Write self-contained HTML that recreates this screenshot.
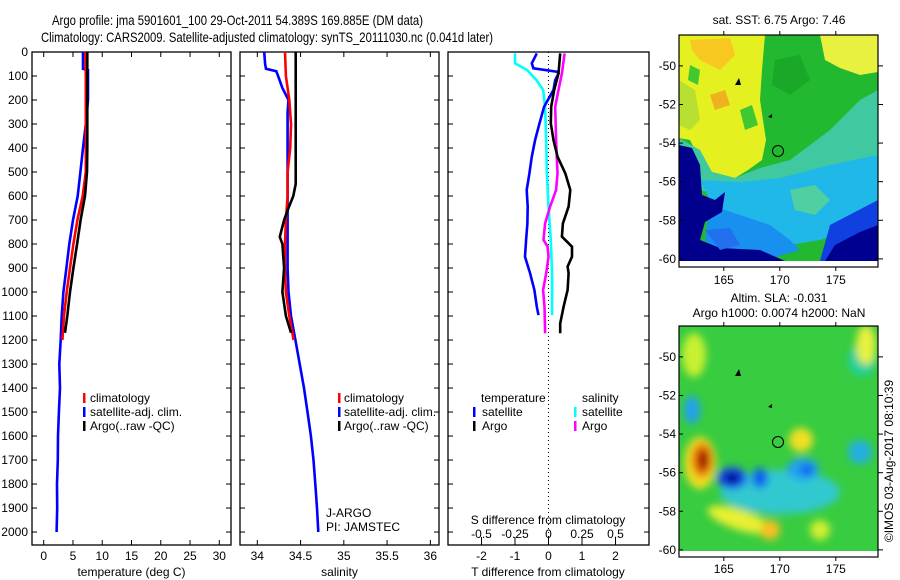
<!DOCTYPE html>
<html><head><meta charset="utf-8"><style>
html,body{margin:0;padding:0;background:#fff;}
svg{display:block;font-family:"Liberation Sans",sans-serif;}
</style></head><body>
<svg id="fig" width="900" height="580" viewBox="0 0 900 580" xmlns="http://www.w3.org/2000/svg">
<defs>
<filter id="blur4" x="-50%" y="-50%" width="200%" height="200%"><feGaussianBlur stdDeviation="4"/></filter>
<clipPath id="clipM1"><rect x="679" y="35" width="199" height="226"/></clipPath>
<clipPath id="clipM2"><rect x="679" y="326" width="199" height="225"/></clipPath>
</defs>
<text x="52" y="25" font-size="14" textLength="371" lengthAdjust="spacingAndGlyphs">Argo profile: jma 5901601_100 29-Oct-2011 54.389S 169.885E (DM data)</text>
<text x="41" y="42" font-size="14" textLength="452" lengthAdjust="spacingAndGlyphs">Climatology: CARS2009. Satellite-adjusted climatology: synTS_20111030.nc (0.041d later)</text>
<g id="profiles"></g>
<g id="maps">
 <g clip-path="url(#clipM1)">
  <rect x="679" y="35" width="199" height="226" fill="#22b830"/>
  <polygon fill="#e4f020" points="679,35 765,35 762,70 760,100 766,140 762,160 748,170 735,178 712,172 700,160 690,140 679,138"/>
  <polygon fill="#b8e030" points="679,80 695,90 700,120 690,130 679,125"/>
  <polygon fill="#40c830" points="740,110 752,105 758,125 745,130"/>
  <polygon fill="#40c830" points="690,65 700,70 698,85 688,80"/>
  <polygon fill="#f8c820" points="690,40 730,38 735,55 720,70 700,60 692,50"/>
  <polygon fill="#f0b020" points="710,95 725,90 730,105 715,110"/>
  <polygon fill="#e8f040" points="820,35 878,35 878,72 860,75 840,68 825,60"/>
  <polygon fill="#1aa828" points="775,60 800,55 810,80 790,95 772,85"/>
  <polygon fill="#40c8a0" points="679,138 700,150 712,172 735,178 760,168 790,160 830,130 860,100 878,90 878,160 840,175 800,185 760,190 720,195 700,190 679,150"/>
  <polygon fill="#20b8e8" points="700,180 740,182 780,178 830,165 878,155 878,215 850,230 820,240 790,245 760,235 730,215 710,200"/>
  <polygon fill="#1890f0" points="710,205 740,215 770,225 790,240 800,250 760,261 720,261 705,240"/>
  <polygon fill="#50d0a0" points="790,190 815,185 830,200 815,215 795,210"/>
  <polygon fill="#1040e0" points="830,225 878,200 878,261 820,261"/>
  <polygon fill="#00008c" points="679,145 692,148 700,165 702,195 715,200 725,192 722,212 705,222 700,240 720,248 760,250 785,261 679,261"/>
  <polygon fill="#000090" points="835,245 860,232 878,225 878,261 825,261"/>
  <polygon fill="#2070f0" points="705,230 730,228 740,245 720,250"/>
 </g>
 <rect x="679" y="261" width="199" height="6" fill="#fff"/>
 <rect x="679" y="35" width="199" height="232" fill="none" stroke="#000" stroke-width="1.2"/>
 <g clip-path="url(#clipM2)">
  <rect x="679" y="326" width="199" height="225" fill="#38cc40"/>
  <g filter="url(#blur4)">
   <ellipse cx="862" cy="360" rx="14" ry="16" fill="#20d0a0"/>
   <ellipse cx="694" cy="355" rx="12" ry="22" fill="#c8f030"/>
   <ellipse cx="866" cy="345" rx="10" ry="20" fill="#e8f040"/>
   <ellipse cx="692" cy="410" rx="8" ry="14" fill="#20a0f0"/>
   <ellipse cx="780" cy="492" rx="60" ry="22" fill="#30c8d0"/>
   <ellipse cx="700" cy="463" rx="16" ry="26" fill="#f0e020"/>
   <ellipse cx="702" cy="460" rx="11" ry="18" fill="#f08010"/>
   <ellipse cx="703" cy="460" rx="6" ry="11" fill="#a01000"/>
   <ellipse cx="732" cy="478" rx="15" ry="11" fill="#1850f0"/>
   <ellipse cx="732" cy="478" rx="8" ry="6" fill="#000090"/>
   <ellipse cx="760" cy="478" rx="8" ry="10" fill="#1060f0"/>
   <ellipse cx="803" cy="469" rx="16" ry="11" fill="#20a0f0"/>
   <ellipse cx="807" cy="470" rx="6" ry="6" fill="#1060f0"/>
   <ellipse cx="801" cy="440" rx="12" ry="12" fill="#f0e020"/>
   <ellipse cx="740" cy="520" rx="34" ry="10" fill="#e8f030" transform="rotate(18 740 520)"/>
   <ellipse cx="770" cy="530" rx="10" ry="10" fill="#f8c020"/>
   <ellipse cx="820" cy="530" rx="10" ry="10" fill="#d0f030"/>
   <ellipse cx="860" cy="452" rx="12" ry="12" fill="#20b0e0"/>
  </g>
 </g>
 <rect x="679" y="551" width="199" height="6" fill="#fff"/>
 <rect x="679" y="326" width="199" height="231" fill="none" stroke="#000" stroke-width="1.2"/>
 <path d="M735,85 l4,-7 l2,7 z M735,376 l4,-7 l2,7 z" fill="#000"/>
 <path d="M768,117 l4,-3 l0,4 z M768,407 l4,-3 l0,4 z" fill="#000"/>
 <circle cx="778" cy="151" r="5.5" fill="none" stroke="#000" stroke-width="1"/>
 <circle cx="778" cy="442" r="5.5" fill="none" stroke="#000" stroke-width="1"/>
 <text x="779" y="24" font-size="12" text-anchor="middle">sat. SST: 6.75 Argo: 7.46</text>
 <text x="779" y="302" font-size="12" text-anchor="middle">Altim. SLA: -0.031</text>
 <text x="779" y="317" font-size="12" text-anchor="middle">Argo h1000: 0.0074 h2000: NaN</text>
 <text x="0" y="0" font-size="12" text-anchor="middle" transform="translate(893,461) rotate(-90)">©IMOS 03-Aug-2017 08:10:39</text>
 <g id="mapaxes"></g>
</g>
</svg>
<script>
const tempDepth = [0,100,200,300,400,500,600,700,800,900,1000,1100,1170];
const tempArgo  = [7.45,7.45,7.45,7.45,7.45,7.4,7.06,6.3,5.7,5.07,4.5,4.03,3.64];
const tempClimDepth = [0,100,200,300,400,500,600,700,800,900,1000,1100,1200];
const tempClim  = [7.1,7.2,7.2,7.2,7.2,7.2,6.66,5.75,5.07,4.5,3.93,3.47,3.19];
const tempSatDepth = [0,70,75,200,300,400,500,600,700,800,900,1000,1100,1200,1300,1400,1500,1600,1700,1800,1900,2000];
const tempSat   = [6.72,6.72,7.57,7.57,7.2,6.72,6.27,5.8,5.0,4.38,3.87,3.36,3.07,2.9,2.67,2.78,2.6,2.44,2.4,2.27,2.3,2.2];

const salArgoDepth = [0,550,600,650,700,770,800,900,1000,1100,1170];
const salArgo   = [34.444,34.444,34.416,34.36,34.31,34.26,34.29,34.31,34.29,34.33,34.39];
const salClimDepth = [0,100,200,300,400,500,600,700,800,900,1000,1100,1200];
const salClim   = [34.32,34.33,34.37,34.39,34.38,34.35,34.35,34.33,34.32,34.32,34.33,34.37,34.42];
const salSatDepth = [0,50,70,80,100,150,200,250,300,900,1000,1100,1200,1300,1400,1500,1600,1700,1800,1900,2000];
const salSat    = [34.08,34.09,34.10,34.22,34.24,34.29,34.36,34.35,34.35,34.35,34.36,34.39,34.44,34.49,34.54,34.58,34.62,34.65,34.67,34.69,34.705];

const dTSatDepth = [6,47,68,82,89,117,158,228,297,367,436,506,575,644,714,783,853,922,992,1061,1096];
const dTSat     = [-0.35,-0.5,-0.45,0.25,0.3,0.2,0.15,-0.13,-0.27,-0.4,-0.5,-0.57,-0.65,-0.62,-0.63,-0.67,-0.7,-0.55,-0.42,-0.35,-0.3];
const dTArgoDepth = [6,89,158,228,297,367,436,506,575,644,714,769,811,853,894,922,992,1061,1131,1172];
const dTArgo    = [0.35,0.3,0.17,0.08,0.07,0.15,0.27,0.5,0.65,0.6,0.43,0.4,0.7,0.7,0.57,0.6,0.57,0.45,0.35,0.35];
const dSSatDepth = [6,47,75,117,158,228,367,506,644,783,922,1096];
const dSSat     = [-0.25,-0.25,-0.16,-0.09,-0.04,-0.025,-0.017,-0.012,0,0.017,0.027,0.027];
const dSArgoDepth = [6,89,158,228,367,506,575,644,714,783,811,853,922,992,1061,1172];
const dSArgo    = [0.12,0.1,0.075,0.05,0.057,0.067,0.057,0.012,-0.025,-0.037,-0.007,0,-0.017,-0.04,-0.03,-0.025];

const depthTicks = [0,100,200,300,400,500,600,700,800,900,1000,1100,1200,1300,1400,1500,1600,1700,1800,1900,2000];
const tempTicks = [0,5,10,15,20,25,30];
const salTicks = [34,34.5,35,35.5,36];
const salTickLabels = ["34","34.5","35","35.5","36"];
const dTTicks = [-2,-1,0,1,2];
const dSTicks = [-0.5,-0.25,0,0.25,0.5];
const dSTickLabels = ["-0.5","-0.25","0","0.25","0.5"];
const latTicks = [50,52,54,56,58,60];
const lonTicks = [165,170,175];

const NS = "http://www.w3.org/2000/svg";
const Y0 = 52, Y1 = 545, DMAX = 2054;
function yD(d){ return Y0 + d/DMAX*(Y1-Y0); }
function mk(tag, attrs, parent){ const e=document.createElementNS(NS,tag); for(const k in attrs) e.setAttribute(k,attrs[k]); parent.appendChild(e); return e; }
const G = document.getElementById('profiles');
const panels = [
 {x0:32,x1:231,lo:-2,hi:32},
 {x0:240,x1:439,lo:33.8,hi:36.1},
 {x0:448,x1:649,lo:-3,hi:3}
];
function xf(p,v){ return p.x0 + (v-p.lo)/(p.hi-p.lo)*(p.x1-p.x0); }
function line(p, vals, depths, color, name, scale){
  const pts = vals.map((v,i)=> xf(p, v*(scale||1)).toFixed(1)+','+yD(depths[i]).toFixed(1)).join(' ');
  const e = mk('polyline',{points:pts,fill:'none',stroke:color,'stroke-width':2.6},G);
  
  
}
function txt(x,y,s,size,anchor,name){
  const e = mk('text',{x:x,y:y,'font-size':size,'text-anchor':anchor||'start'},G);
  e.textContent = s;
  
  
  return e;
}
function tick(x1,y1,x2,y2,parent){ mk('line',{x1:x1,y1:y1,x2:x2,y2:y2,stroke:'#000','stroke-width':1},parent||G); }

panels.forEach((p,i)=>{
  const r = mk('rect',{x:p.x0,y:Y0,width:p.x1-p.x0,height:Y1-Y0,fill:'none',stroke:'#000','stroke-width':1.3},G);
  
  
  depthTicks.forEach(d=>{ tick(p.x0,yD(d),p.x0+5,yD(d)); tick(p.x1-5,yD(d),p.x1,yD(d)); });
});
depthTicks.forEach(d=>{ txt(28, yD(d)+4, String(d), 12, 'end', 'depth-tick-label'); });

const p1=panels[0];
tempTicks.forEach(t=>{ const x=xf(p1,t); tick(x,Y0,x,Y0+5); tick(x,Y1-5,x,Y1); txt(x,Y1+15,String(t),12,'middle','temp-tick-label'); });
txt((p1.x0+p1.x1)/2, 576, 'temperature (deg C)', 12, 'middle', 'temp-axis-title');
line(p1, tempSat, tempSatDepth, '#0000ff', 'temp-satellite-line');
line(p1, tempClim, tempClimDepth, '#ff0000', 'temp-climatology-line');
line(p1, tempArgo, tempDepth, '#000000', 'temp-argo-line');
const p2=panels[1];
salTicks.forEach((t,i)=>{ const x=xf(p2,t); tick(x,Y0,x,Y0+5); tick(x,Y1-5,x,Y1); txt(x,Y1+15,salTickLabels[i],12,'middle','sal-tick-label'); });
txt((p2.x0+p2.x1)/2, 576, 'salinity', 12, 'middle', 'sal-axis-title');
line(p2, salSat, salSatDepth, '#0000ff', 'sal-satellite-line');
line(p2, salClim, salClimDepth, '#ff0000', 'sal-climatology-line');
line(p2, salArgo, salArgoDepth, '#000000', 'sal-argo-line');
[[83,90],[338,344]].forEach((L,k)=>{
  const names=['climatology','satellite-adj. clim.','Argo(..raw -QC)'];
  const cols=['#ff0000','#0000ff','#000000'];
  names.forEach((n,i)=>{
    const m = mk('rect',{x:L[0],y:393+i*14,width:2.5,height:10,fill:cols[i]},G);
    
    
    txt(L[1],402+i*14,n,12,'start','legend-entry');
  });
});
txt(326,517,'J-ARGO',12,'start','float-program-label');
txt(326,531,'PI: JAMSTEC',12,'start','pi-label');
const p3=panels[2];
const zx = xf(p3,0);
const dl = mk('line',{x1:zx,y1:Y0,x2:zx,y2:Y1,stroke:'#000','stroke-width':1,'stroke-dasharray':'1,3'},G);


dTTicks.forEach(t=>{ const x=xf(p3,t); tick(x,Y1-5,x,Y1); txt(x,Y1+15,String(t),12,'middle','dT-tick-label'); });
dSTicks.forEach((t,i)=>{ const x=xf(p3,t*4); tick(x,Y1-8,x,Y1-3); txt(x,Y1-7,dSTickLabels[i],12,'middle','dS-tick-label'); });
txt(548,524,'S difference from climatology',12,'middle','dS-axis-title');
txt(548,576,'T difference from climatology',12,'middle','dT-axis-title');
line(p3, dSSat, dSSatDepth, '#00ffff', 'dS-satellite-line', 4);
line(p3, dSArgo, dSArgoDepth, '#ff00ff', 'dS-argo-line', 4);
line(p3, dTSat, dTSatDepth, '#0000ff', 'dT-satellite-line');
line(p3, dTArgo, dTArgoDepth, '#000000', 'dT-argo-line');
txt(481,402,'temperature',12,'start','legend-title-temperature');
txt(582,402,'salinity',12,'start','legend-title-salinity');
[[473,482,'#0000ff','satellite'],[473,482,'#000000','Argo'],[574,582,'#00ffff','satellite'],[574,582,'#ff00ff','Argo']].forEach((L,i)=>{
  const row=i%2;
  const m = mk('rect',{x:L[0],y:407+row*14,width:2.5,height:10,fill:L[2]},G);
  
  
  txt(L[1],416+row*14,L[3],12,'start','legend-entry');
});

const MA = document.getElementById('mapaxes');
function lonX(l){ return 679 + (l-161)*11.2; }
[[35,267,280],[326,557,569]].forEach((m,k)=>{
  const top=m[0], bot=m[1];
  const latY = lat => (k===0?35:326) + (lat-48.4)*19.3;
  latTicks.forEach(l=>{
    const y=latY(l);
    tick(878,y,883,y,MA); tick(679,y,683,y,MA);
    const t = mk('text',{x:676,y:y+4,'font-size':12,'text-anchor':'end'},MA);
    t.textContent = '-'+l;
    
    
  });
  lonTicks.forEach(l=>{
    const x=lonX(l);
    tick(x,top-4,x,top,MA); tick(x,bot,x,bot+4,MA);
    const t = mk('text',{x:x,y:m[2]+4,'font-size':12,'text-anchor':'middle'},MA);
    t.textContent = String(l);
    
    
  });
});
</script>
</body></html>
